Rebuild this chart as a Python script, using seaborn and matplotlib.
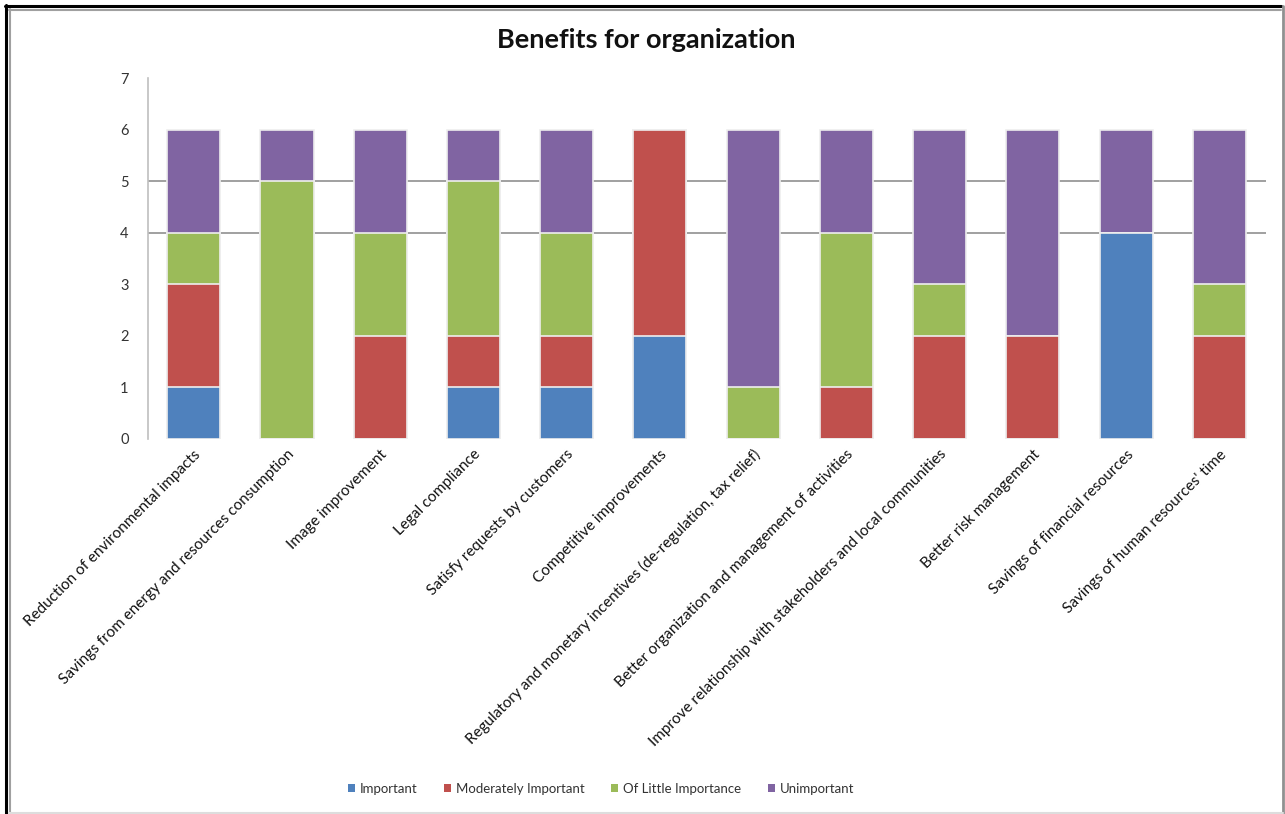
import matplotlib
matplotlib.use("Agg")
import matplotlib.pyplot as plt
from matplotlib.patches import Patch
from matplotlib.lines import Line2D
import seaborn as sns
import pandas as pd

categories = [
    "Reduction of environmental impacts",
    "Savings from energy and resources consumption",
    "Image improvement",
    "Legal compliance",
    "Satisfy requests by customers",
    "Competitive improvements",
    "Regulatory and monetary incentives (de-regulation, tax relief)",
    "Better organization and management of activities",
    "Improve relationship with stakeholders and local communities",
    "Better risk management",
    "Savings of financial resources",
    "Savings of human resources' time",
]
important = [1, 0, 0, 1, 1, 2, 0, 0, 0, 0, 4, 0]
moderately_important = [2, 0, 2, 1, 1, 4, 0, 1, 2, 2, 0, 2]
of_little_importance = [1, 5, 2, 3, 2, 0, 1, 3, 1, 0, 0, 1]
unimportant = [2, 1, 2, 1, 2, 0, 5, 2, 3, 4, 2, 3]

series_names = ["Important", "Moderately Important", "Of Little Importance", "Unimportant"]
series_values = [important, moderately_important, of_little_importance, unimportant]
colors = ["#4F81BD", "#C0504D", "#9BBB59", "#8064A2"]
y_ticks = [0, 1, 2, 3, 4, 5, 6, 7]

sns.set_theme(style="white")
plt.rcParams["font.family"] = ["Lato", "DejaVu Sans"]

df = pd.DataFrame({"category": categories})
for name, vals in zip(series_names, series_values):
    df[name] = vals
# cumulative tops for stacking; draw from the top layer downwards
cum = df[series_names].cumsum(axis=1)

fig = plt.figure(figsize=(12.85, 8.14), dpi=100)
ax = fig.add_axes([148 / 1285, 1 - 439 / 814, (1266 - 148) / 1285, (439 - 78) / 814])

for name, color in reversed(list(zip(series_names, colors))):
    sns.barplot(
        x=df["category"], y=cum[name], ax=ax, color=color, width=0.57,
        edgecolor="#EEEEEE", linewidth=1.2, saturation=1, zorder=3,
    )

ax.set_xlim(-0.49, 11.5)
ax.set_ylim(0, 7)
ax.set_yticks(y_ticks)
ax.set_yticklabels([str(t) for t in y_ticks], fontsize=10.5, color="#333333")
ax.tick_params(axis="y", length=0, pad=14)
ax.tick_params(axis="x", length=0, pad=6)
ax.set_xticks(range(len(categories)))
ax.set_xticklabels(categories, rotation=45, ha="right", rotation_mode="anchor",
                   fontsize=11, color="#111111")
ax.set_xlabel("")
ax.set_ylabel("")

# horizontal rules only at 4 and 5
ax.grid(axis="y", color="#868686", linewidth=1.1, zorder=0)
for t, gl in zip(ax.get_yticks(), ax.yaxis.get_gridlines()):
    gl.set_visible(t in (4, 5))
ax.set_axisbelow(True)

for side in ["top", "right", "bottom"]:
    ax.spines[side].set_visible(False)
ax.spines["left"].set_color("#BFBFBF")
ax.spines["left"].set_linewidth(1.2)

fig.text(646 / 1285, 1 - 40 / 814, "Benefits for organization", ha="center", va="center",
         fontsize=19.5, fontweight="bold", color="#111111")

handles = [Patch(facecolor=c, edgecolor="none", label=n) for n, c in zip(series_names, colors)]
fig.legend(handles=handles, loc="center", bbox_to_anchor=(601 / 1285, 1 - 789 / 814), ncol=4,
           frameon=False, fontsize=9.5, handlelength=0.55, handleheight=0.55,
           handletextpad=0.35, columnspacing=2.0, labelcolor="#333333")

# chart frame
W, H = 1285, 814
def fx(px):
    return px / W
def fy(py):
    return 1 - py / H
fig.add_artist(Line2D([fx(5), fx(1281)], [fy(6), fy(6)], color="black", linewidth=2.2))
fig.add_artist(Line2D([fx(6), fx(6)], [fy(5), fy(814)], color="black", linewidth=2.2))
fig.add_artist(Line2D([fx(9), fx(1281)], [fy(9.5), fy(9.5)], color="#A0A0A0", linewidth=1.5))
fig.add_artist(Line2D([fx(9.5), fx(9.5)], [fy(9), fy(814)], color="#A0A0A0", linewidth=1.5))
fig.add_artist(Line2D([fx(1283), fx(1283)], [fy(6), fy(814)], color="#909090", linewidth=2))
fig.add_artist(Line2D([fx(9), fx(1283)], [fy(812.5), fy(812.5)], color="#DDDDDD", linewidth=1.5))

fig.savefig("out.png", dpi=100, facecolor="white")
